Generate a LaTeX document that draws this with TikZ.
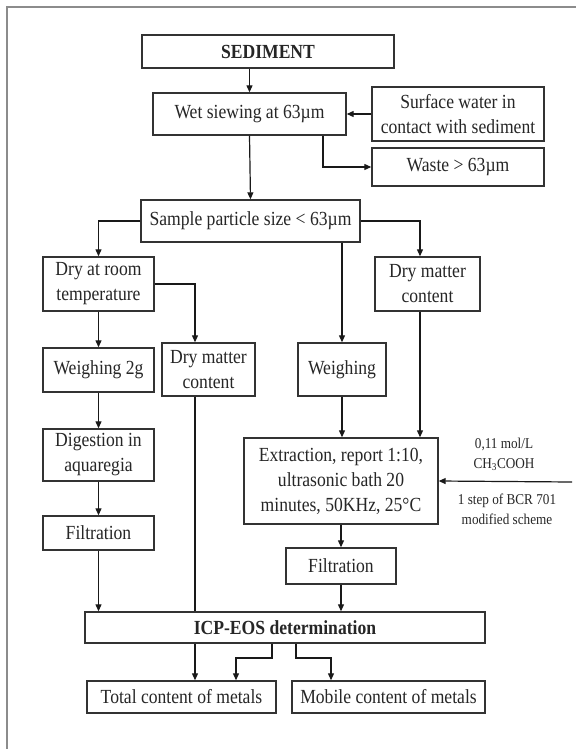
\documentclass[tikz,border=0pt]{standalone}
\usepackage{fontspec}
\setmainfont[FakeStretch=0.88]{Liberation Serif}
\usetikzlibrary{arrows.meta,calc}
\begin{document}
\begin{tikzpicture}[x=1pt,y=-1pt,
  box/.style={draw=black!80, line width=1.4pt, inner sep=0pt, align=center,
    font=\fontsize{20}{25}\selectfont, text=black!85},
  note/.style={inner sep=0pt, align=center, font=\fontsize{15}{20}\selectfont, text=black!85},
  arr/.style={-{Triangle[length=7pt,width=6pt]}, line width=1.2pt, draw=black!90},
  ln/.style={line width=1.2pt, draw=black!90}]
\useasboundingbox (0,0) rectangle (576,749);
\fill[white] (0,0) rectangle (576,749);
\draw[black!45, line width=2pt] (7,749) -- (7,7) -- (576,7);

\node[box, minimum width=252pt, minimum height=33pt] (sed) at (268,51.5) {\bfseries SEDIMENT};
\node[box, minimum width=193pt, minimum height=42pt] (wet) at (249.5,114) {Wet siewing at 63µm};
\node[box, minimum width=172pt, minimum height=54pt] (surf) at (458,114) {Surface water in\\contact with sediment};
\node[box, minimum width=172pt, minimum height=38pt] (waste) at (458,167) {Waste > 63µm};
\node[box, minimum width=219pt, minimum height=42pt] (sample) at (250.5,221) {Sample particle size < 63µm};
\node[box, minimum width=111pt, minimum height=54pt] (dryroom) at (98.5,284) {Dry at room\\temperature};
\node[box, minimum width=105pt, minimum height=54pt] (dmr) at (427.5,284) {Dry matter\\content};
\node[box, minimum width=111pt, minimum height=44pt] (weigh2) at (98.5,370) {Weighing 2g};
\node[box, minimum width=93pt, minimum height=53pt] (dmm) at (208.5,369.5) {Dry matter\\content};
\node[box, minimum width=88pt, minimum height=53pt] (weigh) at (342,369.5) {Weighing};
\node[box, minimum width=111pt, minimum height=52pt] (dig) at (98.5,455) {Digestion in\\aquaregia};
\node[box, minimum width=111pt, minimum height=34pt] (filt1) at (98.5,533) {Filtration};
\node[box, minimum width=194pt, minimum height=86pt] (ext) at (341,481) {Extraction, report 1:10,\\ultrasonic bath 20\\minutes, 50KHz, 25°C};
\node[box, minimum width=110pt, minimum height=36pt] (filt2) at (341,566) {Filtration};
\node[box, minimum width=400pt, minimum height=31pt] (icp) at (285,627.5) {\bfseries ICP-EOS determination};
\node[box, minimum width=189pt, minimum height=32pt] (total) at (181.5,697) {Total content of metals};
\node[box, minimum width=193pt, minimum height=32pt] (mobile) at (388.5,697) {Mobile content of metals};

\node[note] (t1) at (504,454) {0,11 mol/L\\CH\textsubscript{3}COOH};
\node[note] (t2) at (507,509) {1 step of BCR 701\\modified scheme};

\coordinate (wj) at (323,168);
\coordinate (rj) at (420,0);
\coordinate (mj) at (195,0);
\coordinate (src) at (572,482);
\coordinate (a1) at (272,658);
\coordinate (a2) at (236,0);
\coordinate (b1) at (296,658);
\coordinate (b2) at (331,0);

\draw[arr] (sed.south -| wet.north) -- (wet.north);
\draw[arr] (surf.west) -- (wet.east);
\draw[arr] (wet.south -| wj) |- (waste.west);
\draw[arr] (wet.south) -- (sample.north);
\draw[arr] (sample.west) -| (dryroom.north);
\draw[arr] (sample.east) -| (dmr.north -| rj);
\draw[arr] (dryroom.east) -| (dmm.north -| mj);
\draw[arr] (dryroom.south) -- (weigh2.north);
\draw[arr] (sample.south -| weigh.north) -- (weigh.north);
\draw[arr] (weigh2.south) -- (dig.north);
\draw[arr] (dig.south) -- (filt1.north);
\draw[arr] (weigh.south) -- (ext.north -| weigh.south);
\draw[arr] (dmr.south -| rj) -- (ext.north -| rj);
\draw[arr] (src) -- (ext.east);
\draw[arr] (ext.south) -- (filt2.north);
\draw[arr] (filt1.south) -- (icp.north -| filt1.south);
\draw[ln] (dmm.south -| mj) -- (icp.north -| mj);
\draw[arr] (filt2.south) -- (icp.north -| filt2.south);
\draw[arr] (icp.south -| mj) -- (total.north -| mj);
\draw[arr] (icp.south -| a1) -- (a1) -| (total.north -| a2);
\draw[arr] (icp.south -| b1) -- (b1) -| (mobile.north -| b2);
\end{tikzpicture}
\end{document}
